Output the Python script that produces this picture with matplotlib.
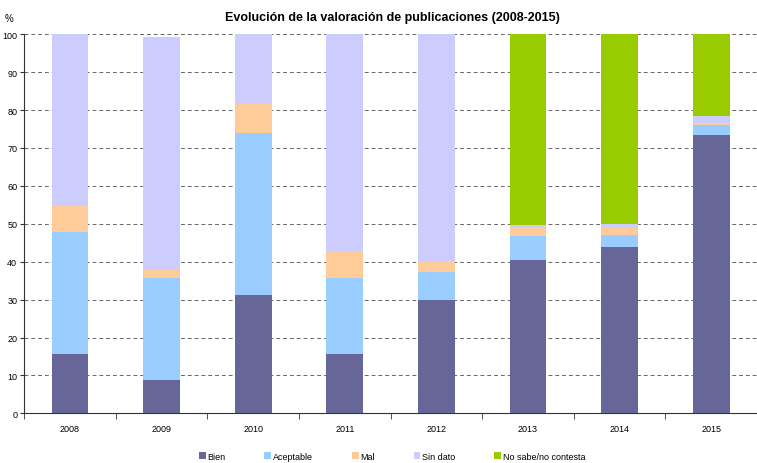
import matplotlib.pyplot as plt
import numpy as np
from matplotlib.patches import Patch

plt.rcParams['font.family'] = ['Liberation Sans', 'DejaVu Sans']

years = ['2008', '2009', '2010', '2011', '2012', '2013', '2014', '2015']
bien = [15.7, 8.8, 31.2, 15.7, 30.0, 40.4, 44.0, 73.5]
aceptable = [32.2, 27.0, 42.8, 20.1, 7.3, 6.4, 3.0, 2.5]
mal = [6.9, 2.1, 7.8, 7.0, 2.9, 2.2, 2.0, 0.5]
sin_dato = [45.2, 61.4, 18.2, 57.2, 59.8, 0.7, 1.0, 1.9]
nsnc = [0, 0, 0, 0, 0, 50.3, 50.0, 21.6]

series = [bien, aceptable, mal, sin_dato, nsnc]
names = ['Bien', 'Aceptable', 'Mal', 'Sin dato', 'No sabe/no contesta']
colors = ['#666699', '#99ccff', '#ffcc99', '#ccccff', '#99cc00']

fig = plt.figure(figsize=(7.57, 4.64), dpi=100)
ax = fig.add_axes([0.032, 0.107, 0.968, 0.817])

x = np.arange(len(years))
bottom = np.zeros(len(years))
for vals, c in zip(series, colors):
    ax.bar(x, vals, width=0.4, bottom=bottom, color=c, zorder=3)
    bottom += np.array(vals)

ax.set_xlim(-0.5, len(years) - 0.5)
ax.set_ylim(0, 100)
ax.set_yticks(range(0, 101, 10))
ax.yaxis.grid(True, linestyle=(0, (4, 3)), color='#666666', linewidth=0.7, zorder=0)
ax.set_xticks(x)
ax.set_xticklabels(years)
ax.set_xticks(np.arange(-0.5, len(years)), minor=True)
ax.tick_params(axis='x', which='major', length=0, labelsize=6.5, pad=8)
ax.tick_params(axis='x', which='minor', length=4, direction='out', color='#333333')
ax.tick_params(axis='y', length=3, labelsize=6.5, pad=2, color='#333333')
for s in ['top', 'right']:
    ax.spines[s].set_visible(False)
ax.spines['left'].set_color('#333333')
ax.spines['bottom'].set_color('#333333')

fig.text(0.518, 0.962, 'Evolución de la valoración de publicaciones (2008-2015)',
         ha='center', va='center', fontsize=9, fontweight='bold')
fig.text(0.012, 0.958, '%', ha='center', va='center', fontsize=7)

handles = [Patch(facecolor=c, label=n) for c, n in zip(colors, names)]
fig.legend(handles=handles, loc='center', bbox_to_anchor=(0.518, 0.015),
           ncol=5, frameon=False, fontsize=6.5, handlelength=0.75, handleheight=0.75,
           handletextpad=0.2, columnspacing=4.3)

fig.savefig('out.png', dpi=100)
